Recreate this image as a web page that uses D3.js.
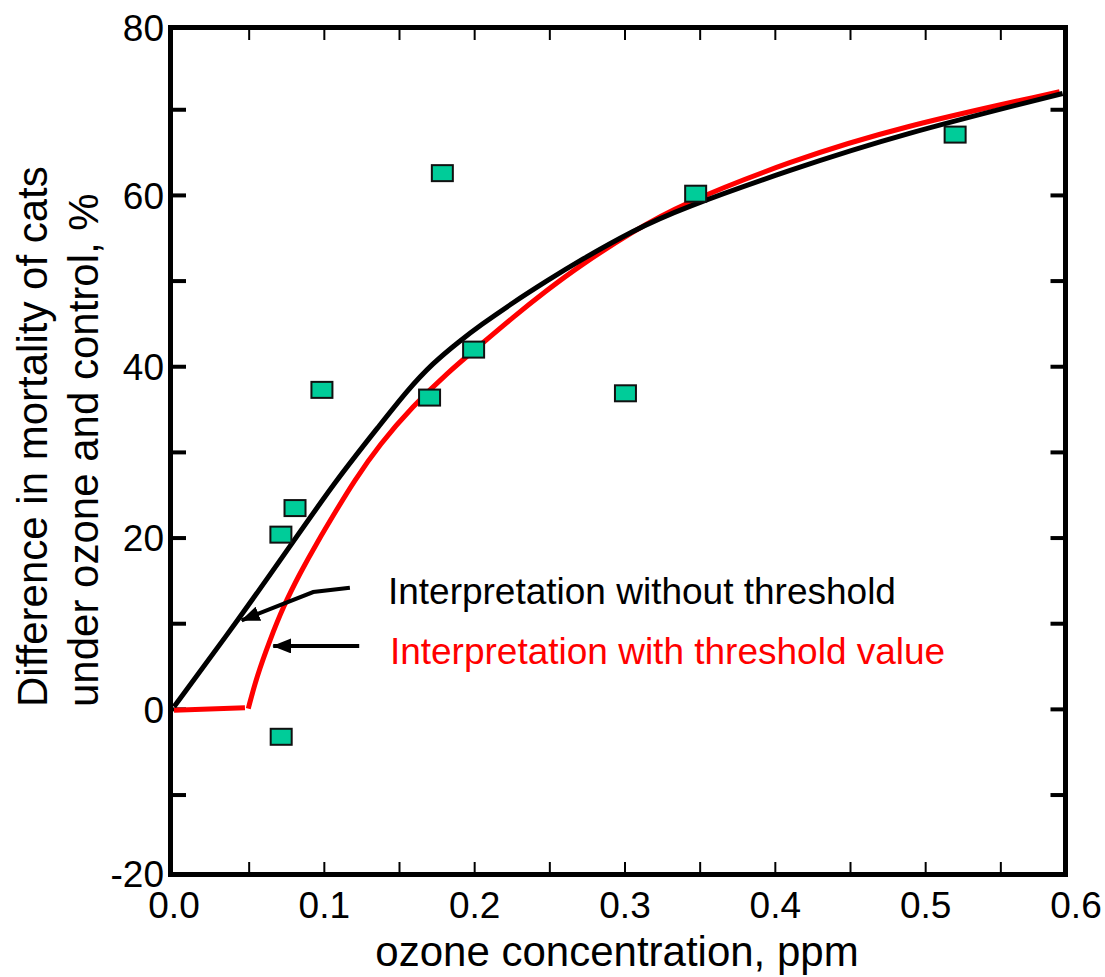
<!DOCTYPE html>
<html>
<head>
<meta charset="utf-8">
<style>
    body { margin: 0; background: #fff; }
    svg { display: block; font-family: "Liberation Sans", Arial, Helvetica, sans-serif; }
</style>
</head>
<body>
<svg width="1105" height="977"></svg>

<script src="https://d3js.org/d3.v7.min.js"></script>
<script>
    // measured points (ozone ppm, mortality difference %)
    let obsX = [0.0711, 0.0805, 0.0713, 0.0984, 0.1785, 0.170, 0.1993, 0.3003, 0.347, 0.5196]
    let obsY = [20.4, 23.5, -3.2, 37.3, 62.6, 36.4, 42.0, 36.9, 60.2, 67.1]

    // fitted curve without threshold (black)
    let noThrX = [0, 0.045, 0.077, 0.108, 0.137, 0.155, 0.172, 0.19, 0.2035, 0.2256, 0.2478, 0.2699, 0.3054, 0.3364, 0.41, 0.4827, 0.5911]
    let noThrY = [0.3, 11.0, 19.0, 26.8, 33.2, 37.2, 40.4, 43.0, 44.8, 47.5, 50.0, 52.4, 55.9, 58.4, 63.0, 67.1, 71.9]

    // fitted curve with threshold (red)
    let thrX = [0, 0.0472, 0.0494, 0.055, 0.0638, 0.0727, 0.0838, 0.0949, 0.1082, 0.1192, 0.137, 0.1589, 0.1813, 0.2035, 0.2256, 0.2478, 0.2699, 0.3054, 0.3364, 0.4096, 0.4827, 0.5891]
    let thrY = [-0.1, 0.2, 0.1, 3.8, 8.1, 12.0, 15.9, 19.4, 23.3, 26.5, 31.0, 35.4, 39.2, 42.5, 45.8, 48.9, 51.8, 55.8, 58.9, 64.0, 68.0, 72.1]

    // axis ticks
    let xTickValues = [0.05, 0.1, 0.15, 0.2, 0.25, 0.3, 0.35, 0.4, 0.45, 0.5, 0.55]
    let xLabelValues = [0, 0.1, 0.2, 0.3, 0.4, 0.5, 0.6]
    let yTickValues = [-10, 0, 10, 20, 30, 40, 50, 60, 70]
    let yLabelValues = [-20, 0, 20, 40, 60, 80]

    // annotation arrows and labels (in data units)
    let arrow1 = [[0.117, 14.2], [0.0926, 13.7], [0.045, 10.4]]
    let arrow2 = [[0.1232, 7.4], [0.066, 7.4]]
    let noteText = ["Interpretation without threshold", "Interpretation with threshold value"]
    let noteAt = [[0.1423, 12.3], [0.1436, 5.3]]
    let noteColor = ["#000", "#ff0000"]

    let svg = d3.select("svg")

    let x = d3.scaleLinear().domain([0, 0.6]).range([174, 1076])
    let y = d3.scaleLinear().domain([-20, 80]).range([880.7, 24.1])

    // frame of the plot
    let frame = { left: 170.5, right: 1065.5, top: 27.5, bottom: 874.5 }

    let line = d3.line()
        .x(d => x(d[0]))
        .y(d => y(d[1]))
        .curve(d3.curveBasis)

    let straight = d3.line()
        .x(d => x(d[0]))
        .y(d => y(d[1]))

    // ticks on all four sides, pointing inward
    let ticks = svg.append("g").attr("stroke", "#000")

    ticks.selectAll(".xt-bottom")
        .data(xTickValues)
        .join("line")
        .attr("class", "xt-bottom")
        .attr("x1", d => x(d)).attr("x2", d => x(d))
        .attr("y1", frame.bottom).attr("y2", frame.bottom - 12.5)
        .attr("stroke-width", 2)

    ticks.selectAll(".xt-top")
        .data(xTickValues)
        .join("line")
        .attr("class", "xt-top")
        .attr("x1", d => x(d)).attr("x2", d => x(d))
        .attr("y1", frame.top).attr("y2", frame.top + 12.5)
        .attr("stroke-width", 2)

    ticks.selectAll(".yt-left")
        .data(yTickValues)
        .join("line")
        .attr("class", "yt-left")
        .attr("x1", frame.left).attr("x2", frame.left + 15.5)
        .attr("y1", d => y(d)).attr("y2", d => y(d))
        .attr("stroke-width", 4)

    ticks.selectAll(".yt-right")
        .data(yTickValues)
        .join("line")
        .attr("class", "yt-right")
        .attr("x1", frame.right).attr("x2", frame.right - 15)
        .attr("y1", d => y(d)).attr("y2", d => y(d))
        .attr("stroke-width", 4)

    // curves: red first, black on top
    let thrData = thrX.map((d, i) => [d, thrY[i]])
    let noThrData = noThrX.map((d, i) => [d, noThrY[i]])

    svg.append("path")
        .datum(thrData.slice(0, 2))
        .attr("d", straight)
        .attr("fill", "none")
        .attr("stroke", "#ff0000")
        .attr("stroke-width", 5)

    svg.append("path")
        .datum(thrData.slice(2))
        .attr("d", line)
        .attr("fill", "none")
        .attr("stroke", "#ff0000")
        .attr("stroke-width", 5)

    svg.append("path")
        .datum(noThrData)
        .attr("d", line)
        .attr("fill", "none")
        .attr("stroke", "#000")
        .attr("stroke-width", 5)

    // frame
    svg.append("rect")
        .attr("x", frame.left)
        .attr("y", frame.top)
        .attr("width", frame.right - frame.left)
        .attr("height", frame.bottom - frame.top)
        .attr("fill", "none")
        .attr("stroke", "#000")
        .attr("stroke-width", 5)

    // data squares
    svg.selectAll(".obs")
        .data(obsX.map((d, i) => [d, obsY[i]]))
        .join("rect")
        .attr("class", "obs")
        .attr("x", d => x(d[0]) - 10.5)
        .attr("y", d => y(d[1]) - 8)
        .attr("width", 21)
        .attr("height", 16)
        .attr("fill", "#00cc99")
        .attr("stroke", "#111")
        .attr("stroke-width", 2)

    // arrows
    svg.append("defs").append("marker")
        .attr("id", "head")
        .attr("markerUnits", "userSpaceOnUse")
        .attr("viewBox", "0 0 19 15")
        .attr("refX", 18)
        .attr("refY", 7.5)
        .attr("markerWidth", 19)
        .attr("markerHeight", 15)
        .attr("orient", "auto")
        .append("path")
        .attr("d", "M0,0 L19,7.5 L0,15 Z")
        .attr("fill", "#000")

    svg.selectAll(".arrow")
        .data([arrow1, arrow2])
        .join("path")
        .attr("class", "arrow")
        .attr("d", straight)
        .attr("fill", "none")
        .attr("stroke", "#000")
        .attr("stroke-width", 4)
        .attr("marker-end", "url(#head)")

    svg.selectAll(".note")
        .data(noteText)
        .join("text")
        .attr("class", "note")
        .attr("x", (d, i) => x(noteAt[i][0]))
        .attr("y", (d, i) => y(noteAt[i][1]))
        .attr("fill", (d, i) => noteColor[i])
        .style("font-size", "37px")
        .text(d => d)

    // tick labels
    svg.selectAll(".xl")
        .data(xLabelValues)
        .join("text")
        .attr("class", "xl")
        .attr("x", d => x(d))
        .attr("y", 918)
        .attr("text-anchor", "middle")
        .style("font-size", "37px")
        .text(d => d3.format(".1f")(d))

    // labels at the ends sit on the frame line
    svg.selectAll(".yl")
        .data(yLabelValues)
        .join("text")
        .attr("class", "yl")
        .attr("x", 164)
        .attr("y", d => Math.min(Math.max(y(d), frame.top), frame.bottom - 1))
        .attr("dy", "0.36em")
        .attr("text-anchor", "end")
        .style("font-size", "37px")
        .text(d => d)

    // axis titles
    svg.append("text")
        .attr("x", 617)
        .attr("y", 966)
        .attr("text-anchor", "middle")
        .style("font-size", "42px")
        .text("ozone concentration, ppm")

    let yTitle = ["Difference in mortality of cats", "under ozone and control, %"]
    svg.selectAll(".yt")
        .data(yTitle)
        .join("text")
        .attr("class", "yt")
        .attr("transform", (d, i) => "translate(" + (47 + i * 51) + ",707) rotate(-90)")
        .style("font-size", "42px")
        .text(d => d)
</script>
</body>
</html>
